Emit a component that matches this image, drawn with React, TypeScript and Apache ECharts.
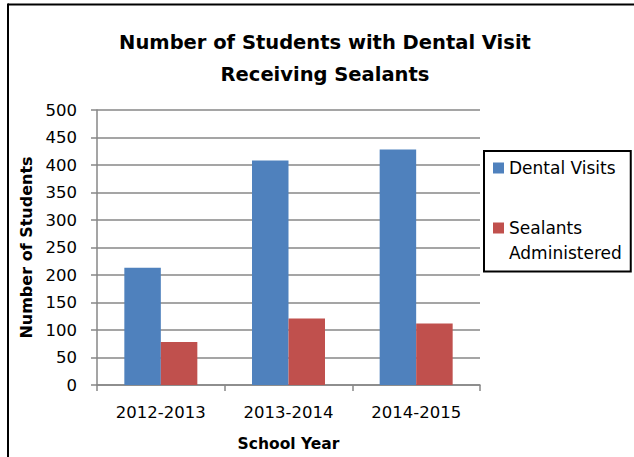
import React, { useEffect, useRef } from "react";
import * as echarts from "echarts";

const categories = ["2012-2013", "2013-2014", "2014-2015"];
const dentalVisits = [213, 408, 428];
const sealantsAdministered = [78, 121, 112];
const seriesNames = ["Dental Visits", "Sealants Administered"];
const yMin = 0;
const yMax = 500;
const yInterval = 50;

export default function App() {
  const ref = useRef<HTMLDivElement>(null);
  useEffect(() => {
    const chart = echarts.init(ref.current!, null, { renderer: "svg" });
    const font = "'DejaVu Sans', sans-serif";
    const grey = "#878787";
    chart.setOption({
      animation: false,
      backgroundColor: "#ffffff",
      title: {
        text: "Number of Students with Dental Visit\nReceiving Sealants",
        left: 325,
        top: 26,
        padding: 0,
        textAlign: "center",
        textStyle: {
          fontFamily: font,
          fontSize: 19.5,
          fontWeight: "bold",
          color: "#000",
          lineHeight: 32,
        },
      },
      legend: {
        left: 484,
        top: 151,
        orient: "vertical",
        padding: [4.5, 9, 6, 9],
        borderColor: "#000",
        borderWidth: 2,
        itemGap: 10,
        itemWidth: 11,
        itemHeight: 11,
        icon: "rect",
        data: seriesNames,
        formatter: (name: string) =>
          name === seriesNames[1] ? "\nSealants\nAdministered" : name,
        textStyle: { fontFamily: font, fontSize: 17, color: "#000", lineHeight: 25 },
      },
      grid: { left: 97, right: 154, top: 110, bottom: 72 },
      xAxis: {
        type: "category",
        data: categories,
        axisLine: { show: true, lineStyle: { color: grey, width: 1.5 } },
        axisTick: { show: true, length: 6, lineStyle: { color: grey, width: 1.5 } },
        axisLabel: { fontFamily: font, fontSize: 16.5, color: "#000", margin: 19 },
        name: "School Year",
        nameLocation: "middle",
        nameGap: 51,
        nameTextStyle: { fontFamily: font, fontSize: 15.5, fontWeight: "bold", color: "#000" },
      },
      yAxis: {
        type: "value",
        min: yMin,
        max: yMax,
        interval: yInterval,
        axisLine: { show: true, lineStyle: { color: grey, width: 1.5 } },
        axisTick: { show: true, length: 6, lineStyle: { color: grey, width: 1.5 } },
        splitLine: { show: true, lineStyle: { color: grey, width: 1.5 } },
        axisLabel: { fontFamily: font, fontSize: 16.5, color: "#000", margin: 20 },
        name: "Number of Students",
        nameLocation: "middle",
        nameGap: 62,
        nameTextStyle: { fontFamily: font, fontSize: 16, fontWeight: "bold", color: "#000" },
      },
      series: [
        {
          name: seriesNames[0],
          type: "bar",
          data: dentalVisits,
          barWidth: 36.5,
          barGap: "0%",
          itemStyle: { color: "#4F81BD" },
        },
        {
          name: seriesNames[1],
          type: "bar",
          data: sealantsAdministered,
          barWidth: 36.5,
          barGap: "0%",
          itemStyle: { color: "#C0504D" },
        },
      ],
      graphic: [
        {
          type: "line",
          shape: { x1: 8, y1: 4.5, x2: 640, y2: 4.5 },
          style: { stroke: "#000", lineWidth: 2 },
        },
        {
          type: "line",
          shape: { x1: 8, y1: 3.5, x2: 8, y2: 460 },
          style: { stroke: "#000", lineWidth: 2 },
        },
      ],
    });
    return () => chart.dispose();
  }, []);
  return (
    <div
      ref={ref}
      style={{ position: "absolute", left: 0, top: 0, width: 634, height: 457 }}
    />
  );
}
